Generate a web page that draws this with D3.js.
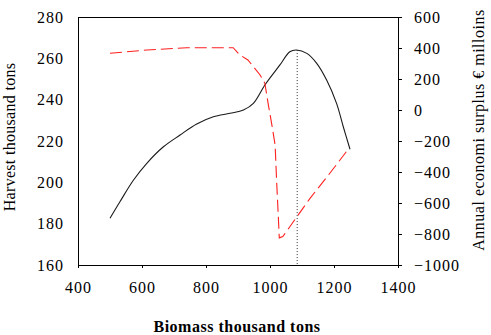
<!DOCTYPE html>
<html>
<head>
<meta charset="utf-8">
<script src="https://cdn.jsdelivr.net/npm/d3@7"></script>
<style>
  html, body { margin: 0; padding: 0; background: #fff; }
  svg { display: block; }
  text { font-family: "Liberation Serif", "Times New Roman", serif; fill: #000; }
</style>
</head>
<body>
<svg id="chart" width="491" height="335"></svg>
<script>
// ---- data ----
const xTicks = [400, 600, 800, 1000, 1200, 1400];
const leftTicks = [160, 180, 200, 220, 240, 260, 280];
const rightTicks = [-1000, -800, -600, -400, -200, 0, 200, 400, 600];

// Harvest (thousand tons) vs biomass — left axis, solid black
const harvestBiomass = [500, 531, 573, 615, 667, 719, 771, 823, 875, 917, 948, 984, 1031, 1062, 1083, 1115, 1146, 1177, 1208, 1229, 1250];
const harvestValues  = [182.6, 190.6, 201, 209.2, 217.2, 222.9, 228.2, 231.7, 233.4, 235.0, 238.2, 247.1, 256.8, 263.2, 264.0, 262.4, 257.6, 249.5, 238.2, 226.9, 216];

// Annual economic surplus (€ millions) vs biomass — right axis, dashed red
const surplusBiomass = [500, 615, 740, 885, 906, 931, 969, 984, 995, 1005, 1016, 1021, 1026, 1029, 1040, 1073, 1125, 1187, 1240];
const surplusValues  = [366, 387, 402, 402, 355, 323, 226, 172, 32, -86, -226, -473, -688, -825, -817, -721, -570, -408, -265];

// MSY marker (biomass at maximum harvest)
const msyBiomass = 1085;
const msyHarvest = 264;

// ---- layout ----
const svg = d3.select("#chart");
const L = 78, R = 398, T = 17, B = 265;

const x = d3.scaleLinear().domain([400, 1400]).range([L, R]);
const yL = d3.scaleLinear().domain([160, 280]).range([B, T]);
const yR = d3.scaleLinear().domain([-1000, 600]).range([B, T]);

// frame
svg.append("rect").attr("x", L).attr("y", T).attr("width", R - L).attr("height", B - T)
  .attr("fill", "none").attr("stroke", "#000").attr("stroke-width", 1).attr("shape-rendering", "crispEdges");

// x axis
const xAxis = svg.append("g").attr("transform", `translate(0,${B})`)
  .call(d3.axisBottom(x).tickValues(xTicks).tickSize(3).tickSizeOuter(0).tickPadding(14).tickFormat(d3.format("d")));
xAxis.select(".domain").remove();
xAxis.selectAll("line").attr("shape-rendering", "crispEdges");
xAxis.selectAll("text").attr("font-size", 16).attr("letter-spacing", 1).attr("font-family", "Liberation Serif").attr("fill", "#000");

// left axis
const lAxis = svg.append("g").attr("transform", `translate(${L},0)`)
  .call(d3.axisLeft(yL).tickValues(leftTicks).tickSize(0).tickPadding(14).tickFormat(d3.format("d")));
lAxis.select(".domain").remove();
lAxis.selectAll("text").attr("font-size", 16).attr("letter-spacing", 1).attr("font-family", "Liberation Serif").attr("fill", "#000");

// right axis
const rAxis = svg.append("g").attr("transform", `translate(${R},0)`)
  .call(d3.axisRight(yR).tickValues(rightTicks).tickSize(4).tickPadding(12).tickFormat(d3.format("d")));
rAxis.select(".domain").remove();
rAxis.selectAll("line").attr("shape-rendering", "crispEdges");
rAxis.selectAll("text").attr("font-size", 16).attr("letter-spacing", 1).attr("font-family", "Liberation Serif").attr("fill", "#000");

// lines
const harvest = harvestBiomass.map((b, i) => [b, harvestValues[i]]);
const surplus = surplusBiomass.map((b, i) => [b, surplusValues[i]]);

svg.append("path").datum(harvest)
  .attr("d", d3.line().x(d => x(d[0])).y(d => yL(d[1])).curve(d3.curveCatmullRom))
  .attr("fill", "none").attr("stroke", "#1a1a1a").attr("stroke-width", 1.1);

svg.append("path").datum(surplus)
  .attr("d", d3.line().x(d => x(d[0])).y(d => yR(d[1])))
  .attr("fill", "none").attr("stroke", "#ff2020").attr("stroke-width", 1.1).attr("stroke-dasharray", "12,5");

// MSY dotted line
svg.append("line")
  .attr("x1", x(msyBiomass)).attr("x2", x(msyBiomass))
  .attr("y1", yL(msyHarvest)).attr("y2", B)
  .attr("stroke", "#333").attr("stroke-width", 1).attr("stroke-dasharray", "1,2");

// titles
svg.append("text").attr("x", 237).attr("y", 332).attr("text-anchor", "middle")
  .attr("font-size", 16).attr("font-weight", "bold").attr("letter-spacing", 0.5).text("Biomass thousand tons");

svg.append("text").attr("transform", "translate(15,137) rotate(-90)").attr("text-anchor", "middle")
  .attr("font-size", 16).attr("letter-spacing", 0.3).text("Harvest thousand tons");

svg.append("text").attr("transform", "translate(484,130) rotate(-90)").attr("text-anchor", "middle")
  .attr("font-size", 16).attr("letter-spacing", 0.5).text("Annual economi surplus € milloins");
</script>
</body>
</html>
